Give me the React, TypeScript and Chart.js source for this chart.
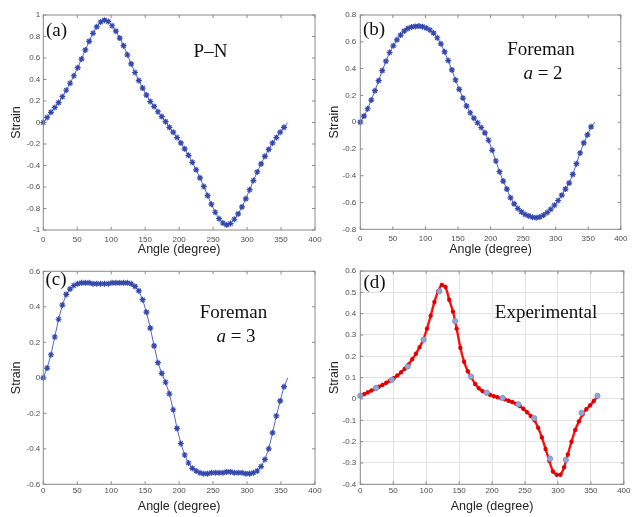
import React, { useEffect, useRef } from 'react';
import { Chart, registerables } from 'chart.js';

Chart.register(...registerables);

// ---------------- data ----------------
const ANGLES = [0, 5.625, 11.25, 16.875, 22.5, 28.125, 33.75, 39.375, 45, 50.625, 56.25, 61.875, 67.5, 73.125, 78.75, 84.375, 90, 95.625, 101.25, 106.875, 112.5, 118.125, 123.75, 129.375, 135, 140.625, 146.25, 151.875, 157.5, 163.125, 168.75, 174.375, 180, 185.625, 191.25, 196.875, 202.5, 208.125, 213.75, 219.375, 225, 230.625, 236.25, 241.875, 247.5, 253.125, 258.75, 264.375, 270, 275.625, 281.25, 286.875, 292.5, 298.125, 303.75, 309.375, 315, 320.625, 326.25, 331.875, 337.5, 343.125, 348.75, 354.375, 360];

const PN_STRAIN = [0, 0.047, 0.095, 0.14, 0.185, 0.24, 0.30, 0.365, 0.435, 0.51, 0.59, 0.675, 0.755, 0.83, 0.89, 0.935, 0.952, 0.94, 0.90, 0.85, 0.785, 0.715, 0.63, 0.545, 0.465, 0.39, 0.32, 0.255, 0.195, 0.15, 0.10, 0.055, 0.008,
  -0.045, -0.09, -0.14, -0.19, -0.245, -0.305, -0.37, -0.44, -0.515, -0.595, -0.68, -0.76, -0.835, -0.895, -0.935, -0.952, -0.94, -0.90, -0.85, -0.785, -0.71, -0.625, -0.54, -0.46, -0.385, -0.315, -0.25, -0.19, -0.14, -0.09, -0.045, 0];

const FOREMAN2_STRAIN = [0, 0.045, 0.10, 0.165, 0.235, 0.31, 0.385, 0.455, 0.52, 0.57, 0.615, 0.65, 0.68, 0.70, 0.71, 0.715, 0.717, 0.713, 0.703, 0.688, 0.665, 0.63, 0.585, 0.525, 0.46, 0.39, 0.315, 0.245, 0.18, 0.12, 0.07, 0.03, -0.005,
  -0.04, -0.08, -0.135, -0.21, -0.29, -0.37, -0.44, -0.50, -0.565, -0.61, -0.645, -0.67, -0.69, -0.70, -0.71, -0.713, -0.708, -0.695, -0.675, -0.65, -0.62, -0.585, -0.545, -0.50, -0.455, -0.39, -0.31, -0.23, -0.155, -0.095, -0.035, 0];

const FOREMAN3_STRAIN = [0, 0.055, 0.13, 0.23, 0.33, 0.41, 0.47, 0.50, 0.52, 0.53, 0.535, 0.535, 0.535, 0.53, 0.53, 0.53, 0.53, 0.53, 0.535, 0.535, 0.535, 0.535, 0.535, 0.53, 0.515, 0.49, 0.44, 0.37, 0.28, 0.18, 0.085, 0.025, -0.025,
  -0.09, -0.18, -0.285, -0.37, -0.435, -0.48, -0.51, -0.525, -0.535, -0.54, -0.54, -0.535, -0.535, -0.535, -0.535, -0.53, -0.53, -0.535, -0.535, -0.535, -0.54, -0.54, -0.535, -0.525, -0.50, -0.46, -0.40, -0.31, -0.215, -0.13, -0.05, 0];

const EXP_FIT_STRAIN = [0.015, 0.022, 0.031, 0.040, 0.048, 0.057, 0.066, 0.076, 0.086, 0.097, 0.110, 0.125, 0.142, 0.162, 0.186, 0.212, 0.243, 0.278, 0.33, 0.39, 0.455, 0.505, 0.535, 0.525, 0.465, 0.41, 0.33, 0.24, 0.175, 0.13, 0.10, 0.07, 0.05,
  0.036, 0.027, 0.02, 0.013, 0.008, 0.003, -0.002, -0.008, -0.014, -0.022, -0.033, -0.046, -0.062, -0.08, -0.10, -0.135, -0.18, -0.235, -0.29, -0.34, -0.355, -0.355, -0.32, -0.26, -0.20, -0.145, -0.105, -0.072, -0.048, -0.03, -0.01, 0.012];

const EXP_ANGLES = [0, 24, 48, 72, 96, 120, 144, 168, 192, 216, 240, 264, 288, 312, 336, 360];
const EXP_STRAIN = [0.015, 0.052, 0.09, 0.152, 0.278, 0.505, 0.365, 0.105, 0.03, 0.005, -0.025, -0.09, -0.28, -0.285, -0.065, 0.015];

const X_TITLE = 'Angle (degree)';
const Y_TITLE = 'Strain';

// ---------------- styles ----------------
const W = 632;
const H = 517;
const SANS = '"Liberation Sans", Arial, sans-serif';
const SERIF = '"Liberation Serif", "Times New Roman", serif';
const BOX = '#8a8a8a';
const TICK_TXT = '#4d4d4d';
const TITLE_TXT = '#262626';
const LINE_BLUE = '#5566c4';
const MARK_BLUE = '#3447ad';

type Note = { parts: { text: string; italic?: boolean }[]; cx: number; cy: number; align?: 'left' | 'center' };

type PanelCfg = {
  key: string;
  area: { left: number; top: number; right: number; bottom: number };
  padL: number;
  padB: number;
  yMin: number; yMax: number; yStep: number;
  yTitlePad: number;
  xTitlePad: number;
  xTickPad: number;
  yTickPad: number;
  grid: boolean;
  notes: Note[];
  kind: 'blue' | 'exp';
  values?: number[];
};

const PANELS: PanelCfg[] = [
  {
    key: 'a', area: { left: 43.3, top: 15, right: 315, bottom: 230 }, padL: 0, padB: H - 258,
    yMin: -1, yMax: 1, yStep: 0.2, yTitlePad: 8.8, xTitlePad: 0.5, xTickPad: 4.5, yTickPad: 3,
    grid: false, kind: 'blue', values: PN_STRAIN,
    notes: [
      { parts: [{ text: '(a)' }], cx: 46, cy: 31.5, align: 'left' },
      { parts: [{ text: 'P–N' }], cx: 210.5, cy: 52.5 },
    ],
  },
  {
    key: 'b', area: { left: 360.3, top: 15, right: 627, bottom: 229.3 }, padL: 326, padB: H - 258,
    yMin: -0.8, yMax: 0.8, yStep: 0.2, yTitlePad: 1, xTitlePad: 0.5, xTickPad: 4.5, yTickPad: 4,
    grid: false, kind: 'blue', values: FOREMAN2_STRAIN,
    notes: [
      { parts: [{ text: '(b)' }], cx: 363, cy: 30.5, align: 'left' },
      { parts: [{ text: 'Foreman' }], cx: 541, cy: 50 },
      { parts: [{ text: 'a', italic: true }, { text: ' = 2' }], cx: 543, cy: 74 },
    ],
  },
  {
    key: 'c', area: { left: 43.3, top: 271.3, right: 315, bottom: 484.3 }, padL: 0, padB: 0,
    yMin: -0.6, yMax: 0.6, yStep: 0.2, yTitlePad: 8.8, xTitlePad: 2.5, xTickPad: 1.5, yTickPad: 3,
    grid: false, kind: 'blue', values: FOREMAN3_STRAIN,
    notes: [
      { parts: [{ text: '(c)' }], cx: 45.5, cy: 280.5, align: 'left' },
      { parts: [{ text: 'Foreman' }], cx: 233.5, cy: 313.5 },
      { parts: [{ text: 'a', italic: true }, { text: ' = 3' }], cx: 236, cy: 337 },
    ],
  },
  {
    key: 'd', area: { left: 360.3, top: 271, right: 627, bottom: 484.3 }, padL: 326, padB: 0,
    yMin: -0.4, yMax: 0.6, yStep: 0.1, yTitlePad: 1, xTitlePad: 2.5, xTickPad: 1.5, yTickPad: 4,
    grid: true, kind: 'exp',
    notes: [
      { parts: [{ text: '(d)' }], cx: 363.5, cy: 283.5, align: 'left' },
      { parts: [{ text: 'Experimental' }], cx: 546, cy: 313 },
    ],
  },
];

function fmtY(v: number) {
  const r = Math.round(Number(v) * 10) / 10;
  return String(r === 0 ? 0 : r);
}

function makeBoxPlugin(notes: Note[]) {
  return {
    id: 'matlabBox',
    afterDatasetsDraw(chart: any) {
      const { ctx, chartArea } = chart;
      const { left, right, top, bottom } = chartArea;
      const xs = chart.scales.x;
      const ys = chart.scales.y;
      const TL = 3;
      ctx.save();
      ctx.strokeStyle = BOX;
      ctx.lineWidth = 1;
      ctx.strokeRect(left, top, right - left, bottom - top);
      ctx.beginPath();
      xs.ticks.forEach((t: any) => {
        const px = xs.getPixelForValue(t.value);
        ctx.moveTo(px, bottom);
        ctx.lineTo(px, bottom - TL);
        ctx.moveTo(px, top);
        ctx.lineTo(px, top + TL);
      });
      ys.ticks.forEach((t: any) => {
        const py = ys.getPixelForValue(t.value);
        ctx.moveTo(left, py);
        ctx.lineTo(left + TL, py);
        ctx.moveTo(right, py);
        ctx.lineTo(right - TL, py);
      });
      ctx.stroke();

      // annotations
      ctx.fillStyle = '#111';
      ctx.textBaseline = 'middle';
      ctx.textAlign = 'left';
      notes.forEach((n) => {
        const widths = n.parts.map((p) => {
          ctx.font = `${p.italic ? 'italic ' : ''}19px ${SERIF}`;
          return ctx.measureText(p.text).width;
        });
        const total = widths.reduce((a, b) => a + b, 0);
        let x = n.align === 'left' ? n.cx : n.cx - total / 2;
        n.parts.forEach((p, i) => {
          ctx.font = `${p.italic ? 'italic ' : ''}19px ${SERIF}`;
          ctx.fillText(p.text, x, n.cy);
          x += widths[i];
        });
      });
      ctx.restore();
    },
  };
}

function buildConfig(cfg: PanelCfg): any {
  const datasets: any[] = [];
  if (cfg.kind === 'blue' && cfg.values) {
    datasets.push({
      data: ANGLES.map((x, i) => ({ x, y: cfg.values![i] })),
      borderColor: LINE_BLUE,
      borderWidth: 1,
      pointStyle: 'star',
      pointRadius: ANGLES.map((_, i) => (i === ANGLES.length - 1 ? 0 : 3)),
      pointBorderColor: MARK_BLUE,
      pointBackgroundColor: MARK_BLUE,
      pointBorderWidth: 1.2,
      tension: 0,
      clip: false,
    });
  } else {
    datasets.push({
      data: EXP_ANGLES.map((x, i) => ({ x, y: EXP_STRAIN[i] })),
      showLine: false,
      pointStyle: 'circle',
      pointRadius: 2.6,
      pointBackgroundColor: '#93a8d6',
      pointBorderColor: '#7f94c6',
      pointBorderWidth: 1,
      clip: false,
      order: 0,
    });
    datasets.push({
      data: ANGLES.map((x, i) => ({ x, y: EXP_FIT_STRAIN[i] })),
      borderColor: '#ff1010',
      borderWidth: 2.4,
      pointStyle: 'star',
      pointRadius: 2.2,
      pointBorderColor: '#e00000',
      pointBackgroundColor: '#e00000',
      pointBorderWidth: 1.3,
      tension: 0.2,
      clip: false,
      order: 1,
    });
  }

  const yWidth = cfg.area.left - cfg.padL;
  const xHeight = H - cfg.padB - cfg.area.bottom;

  return {
    type: 'line',
    data: { datasets },
    options: {
      animation: false,
      responsive: false,
      devicePixelRatio: 1,
      events: [],
      layout: {
        padding: { left: cfg.padL, top: cfg.area.top, right: W - cfg.area.right, bottom: cfg.padB },
      },
      plugins: { legend: { display: false }, tooltip: { enabled: false }, title: { display: false } },
      scales: {
        x: {
          type: 'linear',
          min: 0,
          max: 400,
          afterFit: (s: any) => { s.height = xHeight; },
          ticks: {
            stepSize: 50,
            maxRotation: 0,
            autoSkip: false,
            padding: cfg.xTickPad,
            color: TICK_TXT,
            font: { family: SANS, size: 8 },
            callback: (v: any) => String(v),
          },
          grid: { display: cfg.grid, color: '#e4e4e4', lineWidth: 1, drawTicks: false },
          border: { display: false },
          title: {
            display: true,
            text: X_TITLE,
            color: TITLE_TXT,
            font: { family: SANS, size: 12.5 },
            padding: { top: 0, bottom: cfg.xTitlePad },
          },
        },
        y: {
          type: 'linear',
          min: cfg.yMin,
          max: cfg.yMax,
          afterFit: (s: any) => { s.width = yWidth; },
          ticks: {
            stepSize: cfg.yStep,
            autoSkip: false,
            padding: cfg.yTickPad,
            color: TICK_TXT,
            font: { family: SANS, size: 8 },
            callback: (v: any) => fmtY(v),
          },
          grid: { display: cfg.grid, color: '#e4e4e4', lineWidth: 1, drawTicks: false },
          border: { display: false },
          title: {
            display: true,
            text: Y_TITLE,
            color: TITLE_TXT,
            font: { family: SANS, size: 12.5 },
            padding: { top: cfg.yTitlePad, bottom: 0 },
          },
        },
      },
    },
    plugins: [makeBoxPlugin(cfg.notes)],
  };
}

function Panel({ cfg }: { cfg: PanelCfg }) {
  const ref = useRef<HTMLCanvasElement>(null);
  useEffect(() => {
    const chart = new Chart(ref.current as HTMLCanvasElement, buildConfig(cfg));
    return () => chart.destroy();
  }, [cfg]);
  return (
    <canvas
      ref={ref}
      width={W}
      height={H}
      style={{ position: 'absolute', left: 0, top: 0, width: W, height: H }}
    />
  );
}

export default function App() {
  return (
    <div style={{ position: 'absolute', left: 0, top: 0, width: W, height: H, background: '#fff', overflow: 'hidden' }}>
      {PANELS.map((p) => (
        <Panel key={p.key} cfg={p} />
      ))}
    </div>
  );
}
